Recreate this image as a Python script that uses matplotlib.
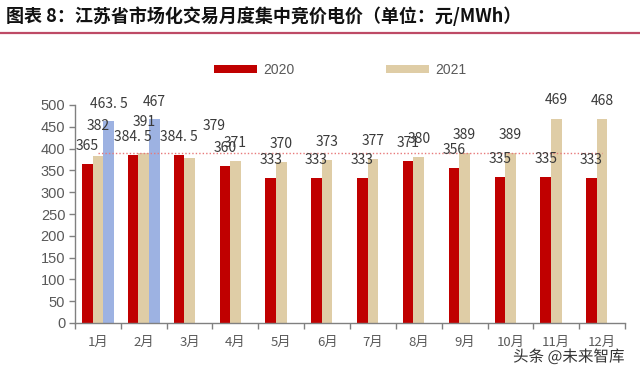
import matplotlib
matplotlib.use("Agg")
import matplotlib.pyplot as plt
import matplotlib.patheffects as pe
import numpy as np

plt.rcParams['font.family'] = ['Noto Sans CJK SC', 'DejaVu Sans']

months = ['1月', '2月', '3月', '4月', '5月', '6月', '7月', '8月', '9月', '10月', '11月', '12月']
vals_2020 = [365, 384.5, 384.5, 360, 333, 333, 333, 371, 356, 335, 335, 333]
vals_2021 = [382, 391, 379, 371, 370, 373, 377, 380, 389, 389, 469, 468]
vals_extra = [463.5, 467]          # blue bars for Jan / Feb
benchmark = 391                    # dotted reference line
yticks = list(range(0, 501, 50))

c2020 = '#C00000'
c2021 = '#DFCDA6'
cblue = '#9DB2E2'
txt_gray = '#3a3a3a'

fig = plt.figure(figsize=(6.4, 3.74), dpi=100)
ax = fig.add_axes([75/640, 1-323/374, 550/640, 218/374])

x = np.arange(len(months))
w = 0.23
b1 = ax.bar(x - w, vals_2020, width=w, color=c2020, label='2020', zorder=2)
b2 = ax.bar(x, vals_2021, width=w, color=c2021, label='2021', zorder=2)
xe = np.arange(len(vals_extra))
b3 = ax.bar(xe + w, vals_extra, width=w, color=cblue, zorder=2)

ax.plot(x, [benchmark]*len(x), color='#E8797A', lw=1.0, ls=(0, (1, 1.5)), zorder=3)

def fmt(v):
    return f'{v:g}'.replace('.', '. ')

lab_font = dict(family=['Noto Sans CJK SC', 'DejaVu Sans'], size=10, color=txt_gray)
for xi, v in zip(x - w, vals_2020):
    ax.annotate(fmt(v), (xi, v), xytext=(0, 13), textcoords='offset points',
                ha='center', va='center', zorder=4, **lab_font)
off21 = {0: (0, 22), 1: (0, 22), 2: (18, 23)}
for i, (xi, v) in enumerate(zip(x, vals_2021)):
    dx, dy = off21.get(i, (0, 13))
    ax.annotate(fmt(v), (xi, v), xytext=(dx, dy), textcoords='offset points',
                ha='center', va='center', zorder=4, **lab_font)
for xi, v in zip(xe + w, vals_extra):
    ax.annotate(fmt(v), (xi, v), xytext=(0, 12.5), textcoords='offset points',
                ha='center', va='center', zorder=4, **lab_font)

ax.set_xlim(-0.5, len(months) - 0.5)
ax.set_ylim(0, 500)
ax.set_yticks(yticks)
ax.set_yticklabels([str(t) for t in yticks], family='Liberation Sans', fontsize=10.5, color='#595959')
ax.set_xticks(x)
ax.set_xticklabels(months, fontsize=9.5, color='#595959')
ax.set_xticks(np.arange(-0.5, len(months), 1), minor=True)
ax.tick_params(axis='x', which='major', length=0, pad=9)
ax.tick_params(axis='x', which='minor', length=4, color='#808080', width=1)
ax.tick_params(axis='y', length=4, color='#808080', width=1, pad=3)
for s in ['top', 'right']:
    ax.spines[s].set_visible(False)
for s in ['left', 'bottom']:
    ax.spines[s].set_color('#808080')
    ax.spines[s].set_linewidth(1)

leg = fig.legend(handles=[b1, b2], labels=['2020', '2021'], loc='center left',
                 bbox_to_anchor=(208/640, 1-70/374), ncol=2, frameon=False,
                 handlelength=3.1, handleheight=0.5, handletextpad=0.45,
                 columnspacing=6.6, borderaxespad=0,
                 prop={'family': 'Liberation Sans', 'size': 10})
for t in leg.get_texts():
    t.set_color('#595959')

fig.text(6/640, 1-16/374, '图表 8：江苏省市场化交易月度集中竞价电价（单位：元/MWh）',
         fontsize=13, fontweight='bold', color='#111111', ha='left', va='center')
fig.add_artist(plt.Line2D([0, 1], [1-33/374, 1-33/374], color='#BE4A66', lw=1.6,
                          transform=fig.transFigure))

fig.text(513/640, 1-357/374, '头条 @未来智库', fontsize=11.2, color='#333333',
         ha='left', va='center',
         path_effects=[pe.withStroke(linewidth=2, foreground='white')])

fig.savefig('out.png', dpi=100)
